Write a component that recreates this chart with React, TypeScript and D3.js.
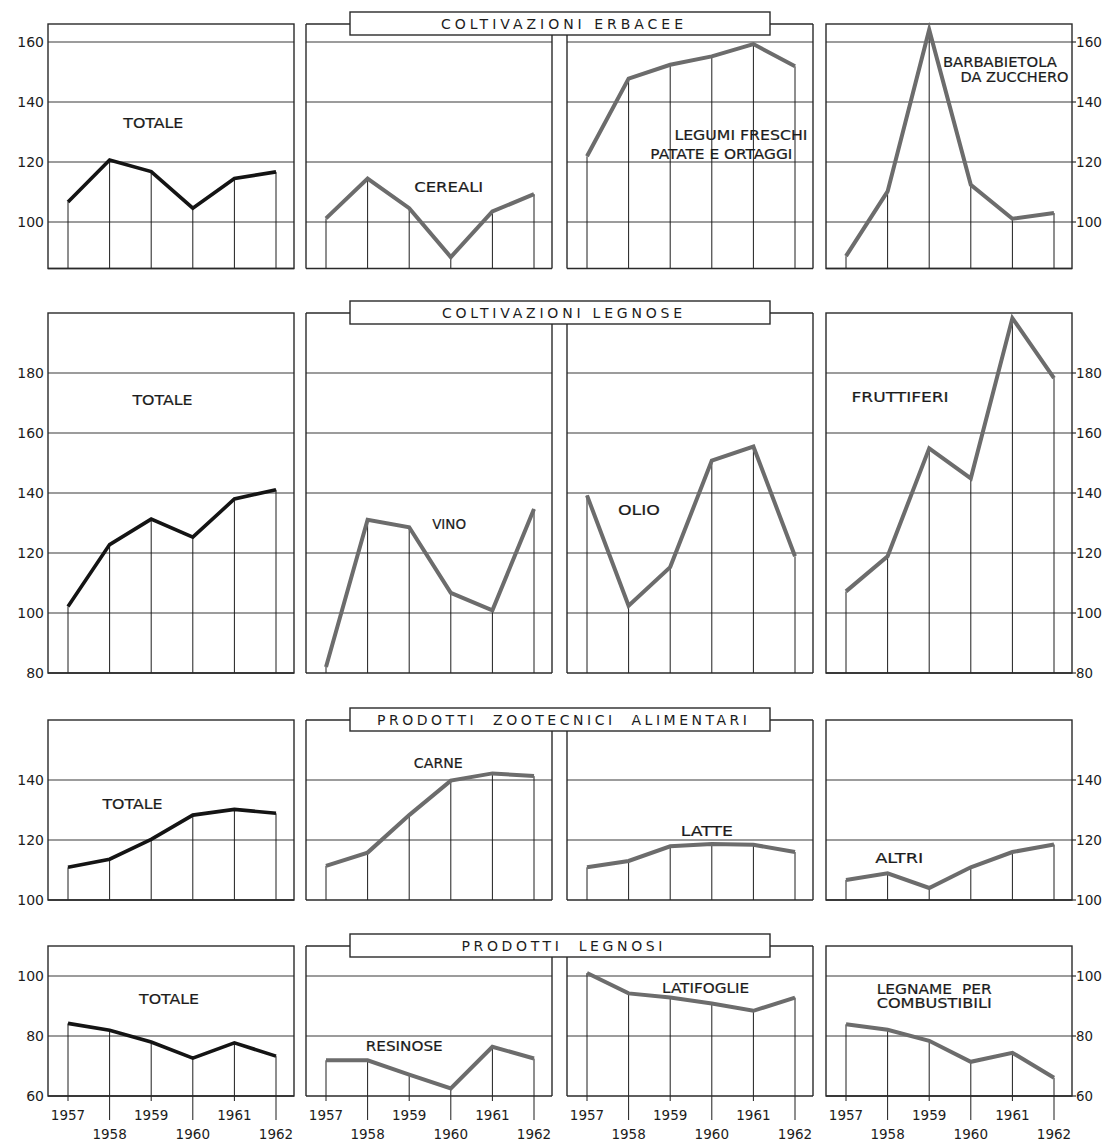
import React from "react";
import * as d3 from "d3";

// anni comuni a tutti i pannelli
const years = [1957, 1958, 1959, 1960, 1961, 1962];

// coltivazioni erbacee
const erbaceeTotale = [106.7, 120.7, 116.8, 104.6, 114.5, 116.7];
const cereali = [101.2, 114.5, 104.6, 88.3, 103.5, 109.3];
const legumi = [121.9, 147.8, 152.4, 155.2, 159.3, 151.9];
const barbabietola = [88.6, 110.2, 164.1, 112.4, 101.1, 103];

// coltivazioni legnose
const legnoseTotale = [102.2, 122.8, 131.3, 125.3, 138, 141.1];
const vino = [82, 131.1, 128.6, 106.7, 100.9, 134.7];
const olio = [139.2, 102.4, 115.3, 150.8, 155.5, 118.9];
const fruttiferi = [107.2, 118.9, 154.9, 144.9, 198.3, 178.3];

// prodotti zootecnici alimentari
const zooTotale = [110.9, 113.6, 120.2, 128.3, 130.2, 128.9];
const carne = [111.4, 115.8, 128.3, 139.8, 142.2, 141.3];
const latte = [110.9, 113, 117.9, 118.7, 118.4, 116];
const altri = [106.7, 108.9, 104, 110.9, 116, 118.5];

// prodotti legnosi
const legnosiTotale = [84.2, 81.9, 78, 72.6, 77.7, 73.3];
const resinose = [71.9, 71.9, 67.1, 62.5, 76.4, 72.5];
const latifoglie = [101, 94.2, 92.8, 90.8, 88.4, 92.8];
const legname = [83.9, 82.1, 78.4, 71.4, 74.4, 66.1];

const rowTitles = [
  "COLTIVAZIONI ERBACEE",
  "COLTIVAZIONI LEGNOSE",
  "PRODOTTI  ZOOTECNICI  ALIMENTARI",
  "PRODOTTI  LEGNOSI",
];
const rowSeries = [
  [erbaceeTotale, cereali, legumi, barbabietola],
  [legnoseTotale, vino, olio, fruttiferi],
  [zooTotale, carne, latte, altri],
  [legnosiTotale, resinose, latifoglie, legname],
];
const rowDomains: [number, number][] = [
  [84.5, 166],
  [80, 200],
  [100, 160],
  [60, 110],
];
const rowTicks = [
  [100, 120, 140, 160],
  [80, 100, 120, 140, 160, 180],
  [100, 120, 140],
  [60, 80, 100],
];

// etichette dei pannelli: [testo, anno, valore] per riga e pannello
type Label = [string, number, number];
const panelLabels: Label[][][] = [
  [
    [["TOTALE", 1959.05, 133]],
    [["CEREALI", 1959.95, 111.7]],
    [["LEGUMI FRESCHI", 1960.7, 129], ["PATATE E ORTAGGI", 1960.23, 122.7]],
    [["BARBABIETOLA", 1960.7, 153.3], ["DA ZUCCHERO", 1961.05, 148.3]],
  ],
  [
    [["TOTALE", 1959.27, 171]],
    [["VINO", 1959.96, 129.7]],
    [["OLIO", 1958.25, 134.3]],
    [["FRUTTIFERI", 1958.3, 172]],
  ],
  [
    [["TOTALE", 1958.55, 132]],
    [["CARNE", 1959.7, 145.7]],
    [["LATTE", 1959.88, 123]],
    [["ALTRI", 1958.28, 114]],
  ],
  [
    [["TOTALE", 1959.43, 92.3]],
    [["RESINOSE", 1958.88, 76.7]],
    [["LATIFOGLIE", 1959.85, 96]],
    [["LEGNAME  PER", 1959.12, 95.7], ["COMBUSTIBILI", 1959.12, 91]],
  ],
];

// layout
const W = 1104;
const H = 1143;
const rowTops = [24, 313, 720, 946];
const pxPerUnit = 3;
const panelLefts = [48, 306, 567, 826];
const panelW = 246;
const yearPad = [20, 18];
const boxLeft = 350;
const boxRight = 770;
const font = "'DejaVu Sans', sans-serif";
const ink = "#2a2a2a";
const textInk = "#1c1c1c";

const labelWidths: Record<string, number> = {
  TOTALE: 60,
  CEREALI: 69,
  "LEGUMI FRESCHI": 133,
  "PATATE E ORTAGGI": 142,
  BARBABIETOLA: 114,
  "DA ZUCCHERO": 108,
  VINO: 34,
  OLIO: 42,
  FRUTTIFERI: 97,
  CARNE: 49,
  LATTE: 52,
  ALTRI: 48,
  RESINOSE: 77,
  LATIFOGLIE: 87,
  "LEGNAME  PER": 115,
  COMBUSTIBILI: 115,
};
const titleWidths = [242, 240, 370, 201];

const Panel = ({ row, col }: { row: number; col: number }) => {
  const [lo, hi] = rowDomains[row];
  const top = rowTops[row];
  const bottom = top + (hi - lo) * pxPerUnit;
  const left = panelLefts[col];
  const right = left + panelW;
  const x = d3
    .scaleLinear()
    .domain([1957, 1962])
    .range([left + yearPad[0], right - yearPad[1]]);
  const y = d3.scaleLinear().domain([lo, hi]).range([bottom, top]);
  const values = rowSeries[row][col];
  const line = d3
    .line<number>()
    .x((_, i) => x(years[i]))
    .y((d) => y(d));
  const boxBottom = top + 11;
  const isLast = row === rowTops.length - 1;

  return (
    <g>
      {/* griglia */}
      {rowTicks[row]
        .filter((t) => t > lo && t < hi)
        .map((t) => (
          <line key={t} x1={left} x2={right} y1={y(t)} y2={y(t)} stroke="#3a3a3a" strokeWidth={1.2} />
        ))}
      {/* verticali degli anni */}
      {values.map((v, i) => (
        <line
          key={i}
          x1={x(years[i])}
          x2={x(years[i])}
          y1={y(v)}
          y2={isLast ? bottom + (i % 2 === 1 ? 24 : 5) : bottom}
          stroke="#1e1e1e"
          strokeWidth={1}
        />
      ))}
      {/* cornice */}
      <line x1={left} x2={right} y1={bottom} y2={bottom} stroke={ink} strokeWidth={1.4} />
      {col === 1 ? (
        <>
          <line x1={left} x2={boxLeft} y1={top} y2={top} stroke={ink} strokeWidth={1.4} />
          <line x1={left} x2={left} y1={top} y2={bottom} stroke={ink} strokeWidth={1.4} />
          <line x1={right} x2={right} y1={boxBottom} y2={bottom} stroke={ink} strokeWidth={1.4} />
        </>
      ) : col === 2 ? (
        <>
          <line x1={boxRight} x2={right} y1={top} y2={top} stroke={ink} strokeWidth={1.4} />
          <line x1={left} x2={left} y1={boxBottom} y2={bottom} stroke={ink} strokeWidth={1.4} />
          <line x1={right} x2={right} y1={top} y2={bottom} stroke={ink} strokeWidth={1.4} />
        </>
      ) : (
        <rect x={left} y={top} width={panelW} height={bottom - top} fill="none" stroke={ink} strokeWidth={1.4} />
      )}
      {/* serie */}
      <path
        d={line(values) || ""}
        fill="none"
        stroke={col === 0 ? "#141414" : "#6c6c6c"}
        strokeWidth={col === 0 ? 3.6 : 4}
        strokeLinejoin="miter"
      />
      {/* etichette */}
      {panelLabels[row][col].map(([text, yr, val]) => (
        <text
          key={text}
          x={x(yr)}
          y={y(val)}
          textAnchor="middle"
          dominantBaseline="central"
          fontFamily={font}
          fontSize={13.5}
          fill={textInk}
          stroke={textInk}
          strokeWidth={0.2}
          textLength={labelWidths[text]}
          lengthAdjust="spacingAndGlyphs"
          style={{ whiteSpace: "pre" }}
        >
          {text}
        </text>
      ))}
      {/* anni sotto l'ultima riga */}
      {isLast &&
        years.map((yr, i) => (
          <text
            key={yr}
            x={x(yr)}
            y={i % 2 === 0 ? bottom + 19 : bottom + 38}
            textAnchor="middle"
            dominantBaseline="central"
            fontFamily={font}
            fontSize={13.5}
            fill={textInk}
          >
            {yr}
          </text>
        ))}
    </g>
  );
};

const Row = ({ row }: { row: number }) => {
  const [lo, hi] = rowDomains[row];
  const top = rowTops[row];
  const bottom = top + (hi - lo) * pxPerUnit;
  const y = d3.scaleLinear().domain([lo, hi]).range([bottom, top]);
  const rightEdge = panelLefts[3] + panelW;
  return (
    <g>
      {[0, 1, 2, 3].map((c) => (
        <Panel key={c} row={row} col={c} />
      ))}
      {/* asse sinistro e destro */}
      {rowTicks[row].map((t) => (
        <g key={t}>
          <text
            x={44}
            y={y(t)}
            textAnchor="end"
            dominantBaseline="central"
            fontFamily={font}
            fontSize={14}
            fill={textInk}
          >
            {t}
          </text>
          <line x1={rightEdge} x2={rightEdge + 4} y1={y(t)} y2={y(t)} stroke={ink} strokeWidth={1.2} />
          <text
            x={rightEdge + 4}
            y={y(t)}
            dominantBaseline="central"
            fontFamily={font}
            fontSize={14}
            fill={textInk}
            textLength={t >= 100 ? 26 : 17}
            lengthAdjust="spacingAndGlyphs"
          >
            {t}
          </text>
        </g>
      ))}
      {/* titolo */}
      <rect
        x={boxLeft}
        y={top - 12}
        width={boxRight - boxLeft}
        height={23}
        fill="#fff"
        stroke={ink}
        strokeWidth={1.4}
      />
      <text
        x={(boxLeft + boxRight) / 2 + 2}
        y={top - 0.5}
        textAnchor="middle"
        dominantBaseline="central"
        fontFamily={font}
        fontSize={14}
        fill={textInk}
        textLength={titleWidths[row]}
        lengthAdjust="spacing"
        style={{ whiteSpace: "pre" }}
      >
        {rowTitles[row]}
      </text>
    </g>
  );
};

export default function App() {
  return (
    <svg
      width={W}
      height={H}
      viewBox={`0 0 ${W} ${H}`}
      style={{ position: "absolute", left: 0, top: 0, background: "#fff" }}
    >
      {rowTops.map((_, r) => (
        <Row key={r} row={r} />
      ))}
    </svg>
  );
}
